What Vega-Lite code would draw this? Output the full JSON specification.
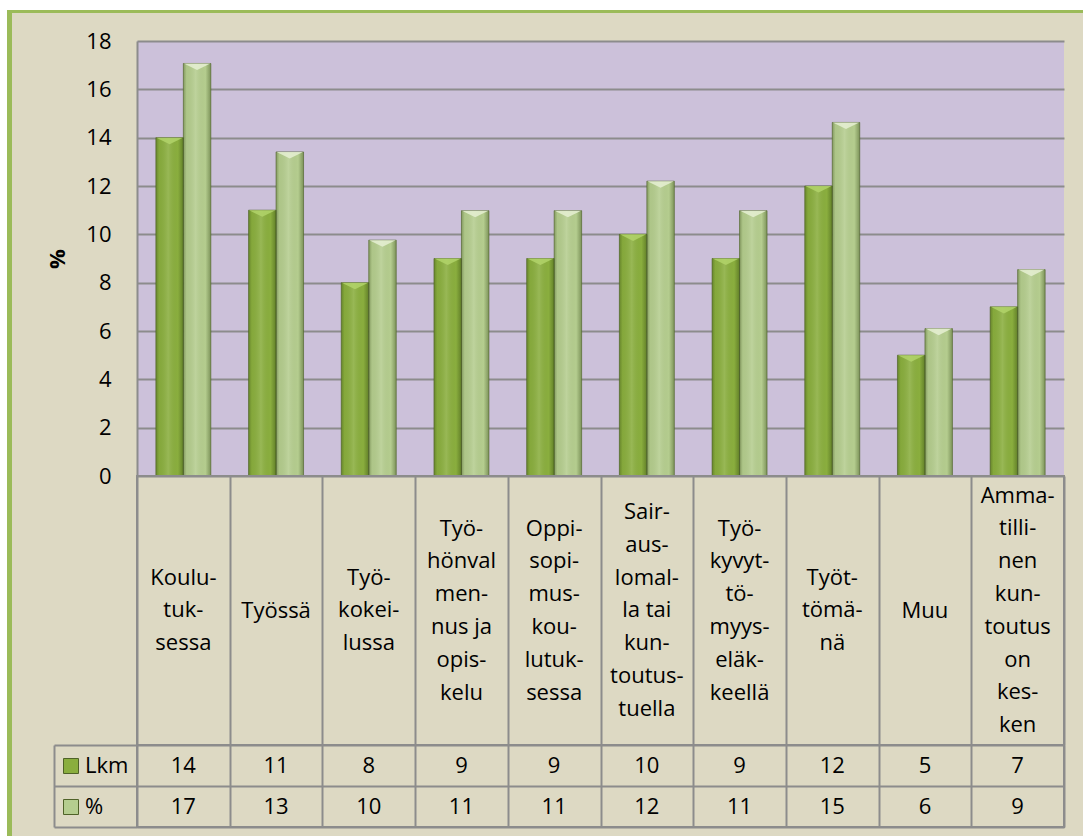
{
  "$schema": "https://vega.github.io/schema/vega-lite/v6.json",
  "padding": 0,
  "background": "#DDD9C3",
  "spacing": 0,
  "config": {"font": "Open Sans", "view": {"stroke": null}},
  "datasets": {
    "d": [
      {"cat": "Koulutuksessa", "label": "Koulu-\ntuk-\nsessa", "Lkm": 14, "Pct": 17.07},
      {"cat": "Työssä", "label": "Työssä", "Lkm": 11, "Pct": 13.41},
      {"cat": "Työkokeilussa", "label": "Työ-\nkokei-\nlussa", "Lkm": 8, "Pct": 9.76},
      {"cat": "Työhönvalmennus ja opiskelu", "label": "Työ-\nhönval\nmen-\nnus ja\nopis-\nkelu", "Lkm": 9, "Pct": 10.98},
      {"cat": "Oppisopimuskoulutuksessa", "label": "Oppi-\nsopi-\nmus-\nkou-\nlutuk-\nsessa", "Lkm": 9, "Pct": 10.98},
      {"cat": "Sairauslomalla tai kuntoutustuella", "label": "Sair-\naus-\nlomal-\nla tai\nkun-\ntoutus-\ntuella", "Lkm": 10, "Pct": 12.2},
      {"cat": "Työkyvyttömyyseläkkeellä", "label": "Työ-\nkyvyt-\ntö-\nmyys-\neläk-\nkeellä", "Lkm": 9, "Pct": 10.98},
      {"cat": "Työttömänä", "label": "Työt-\ntömä-\nnä", "Lkm": 12, "Pct": 14.63},
      {"cat": "Muu", "label": "Muu", "Lkm": 5, "Pct": 6.1},
      {"cat": "Ammatillinen kuntoutus on kesken", "label": "Amma-\ntilli-\nnen\nkun-\ntoutus\non\nkes-\nken", "Lkm": 7, "Pct": 8.54}
    ]
  },
  "hconcat": [
    {"data": {"values": []}, "mark": "point", "width": 7, "height": 836, "view": {"fill": "#FFFFFF", "stroke": null}},
    {
      "spacing": 0,
      "vconcat": [
        {"data": {"values": []}, "mark": "point", "width": 1076, "height": 10, "view": {"fill": "#FFFFFF", "stroke": null}},
        {"data": {"values": []}, "mark": "point", "width": 1076, "height": 3, "view": {"fill": "#9BBB59", "stroke": null}},
        {
          "spacing": 34,
          "hconcat": [
            {"data": {"values": []}, "mark": "point", "width": 5, "height": 823, "view": {"fill": "#9BBB59", "stroke": null}},
            {
              "spacing": 0,
              "bounds": "flush",
              "vconcat": [
                {"data": {"values": []}, "mark": "point", "width": 927, "height": 28, "view": {"fill": "#DDD9C3", "stroke": null}},
                {
                  "width": 927,
                  "height": 435,
                  "data": {"name": "d"},
                  "transform": [{"fold": ["Lkm", "Pct"], "as": ["series", "value"]}],
                  "view": {"fill": "#CCC1DA", "stroke": null},
                  "encoding": {
                    "x": {
                      "field": "cat", "type": "nominal",
                      "scale": {"type": "band", "domain": ["Koulutuksessa", "Työssä", "Työkokeilussa", "Työhönvalmennus ja opiskelu", "Oppisopimuskoulutuksessa", "Sairauslomalla tai kuntoutustuella", "Työkyvyttömyyseläkkeellä", "Työttömänä", "Muu", "Ammatillinen kuntoutus on kesken"], "paddingInner": 0.407, "paddingOuter": 0.2035},
                      "axis": null
                    },
                    "xOffset": {"field": "series", "type": "nominal", "scale": {"domain": ["Lkm", "Pct"], "paddingInner": 0, "paddingOuter": 0}},
                    "y": {
                      "field": "value", "type": "quantitative",
                      "scale": {"domain": [0, 18], "nice": false},
                      "axis": {
                        "values": [0, 2, 4, 6, 8, 10, 12, 14, 16, 18],
                        "title": "%", "titleFont": "Open Sans", "titleFontSize": 22, "titleFontWeight": "bold", "titleColor": "#000000", "titlePadding": 16,
                        "labelFont": "Open Sans", "labelFontSize": 22, "labelColor": "#000000", "labelPadding": 26,
                        "ticks": false, "tickSize": 0,
                        "domain": true, "domainColor": "#8C8C8C", "domainWidth": 2,
                        "grid": true, "gridColor": "#8C8C8C", "gridWidth": 2
                      }
                    }
                  },
                  "layer": [
                    {
                      "mark": {"type": "bar"},
                      "encoding": {
                        "color": {
                          "field": "series", "type": "nominal",
                          "scale": {"domain": ["Lkm", "Pct"], "range": ["#8AAE3E", "#B5CD8F"]},
                          "legend": {
                            "orient": "none", "legendX": 60, "legendY": 755, "title": null, "padding": 0,
                            "symbolType": "square", "symbolSize": 225, "symbolStrokeColor": "#4F6228", "symbolStrokeWidth": 1, "symbolOpacity": 1,
                            "labelFont": "Open Sans", "labelFontSize": 22, "labelColor": "#000000", "labelOffset": 3, "rowPadding": 19,
                            "labelExpr": "datum.label == 'Pct' ? '%' : datum.label"
                          }
                        }
                      }
                    },
                    {
                      "mark": {
                        "type": "bar",
                        "fill": {"gradient": "linear", "x1": 0, "y1": 0, "x2": 1, "y2": 0, "stops": [
                          {"offset": 0, "color": "rgba(40,60,10,0.35)"},
                          {"offset": 0.12, "color": "rgba(40,60,10,0.05)"},
                          {"offset": 0.45, "color": "rgba(255,255,255,0.12)"},
                          {"offset": 0.8, "color": "rgba(40,60,10,0)"},
                          {"offset": 1, "color": "rgba(40,60,10,0.4)"}
                        ]},
                        "stroke": "#4A5E25", "strokeWidth": 1, "strokeOpacity": 0.6
                      }
                    },
                    {
                      "mark": {
                        "type": "point",
                        "shape": "M-1,0L1,0L0,0.5Z",
                        "size": 700,
                        "filled": true,
                        "opacity": 0.85,
                        "strokeWidth": 0,
                        "fill": {"expr": "datum.series == 'Lkm' ? '#B2D46A' : '#E6F0D4'"}
                      }
                    }
                  ]
                },
                {
                  "width": 927,
                  "height": 269,
                  "data": {"name": "d"},
                  "view": {"stroke": "#8C8C8C", "strokeWidth": 2},
                  "mark": {"type": "text", "lineBreak": "\n", "lineHeight": 32.8, "fontSize": 22, "font": "Open Sans", "color": "#000000", "baseline": "middle", "align": "center",
                    "dy": {"expr": "-(length(split(datum.label, '\\n')) - 1) * 16.4"}},
                  "encoding": {
                    "x": {
                      "field": "cat", "type": "nominal",
                      "scale": {"type": "band", "domain": ["Koulutuksessa", "Työssä", "Työkokeilussa", "Työhönvalmennus ja opiskelu", "Oppisopimuskoulutuksessa", "Sairauslomalla tai kuntoutustuella", "Työkyvyttömyyseläkkeellä", "Työttömänä", "Muu", "Ammatillinen kuntoutus on kesken"], "paddingInner": 0, "paddingOuter": 0},
                      "axis": {"title": null, "labels": false, "ticks": false, "domain": false, "grid": true, "tickBand": "extent", "gridColor": "#8C8C8C", "gridWidth": 2}
                    },
                    "text": {"field": "label", "type": "nominal"}
                  }
                },
                {
                  "width": 927,
                  "height": 82,
                  "data": {"name": "d"},
                  "transform": [{"fold": ["Lkm", "Pct"], "as": ["series", "value"]}],
                  "view": {"stroke": "#8C8C8C", "strokeWidth": 2},
                  "mark": {"type": "text", "fontSize": 22, "font": "Open Sans", "color": "#000000", "baseline": "middle", "align": "center"},
                  "encoding": {
                    "x": {
                      "field": "cat", "type": "nominal",
                      "scale": {"type": "band", "domain": ["Koulutuksessa", "Työssä", "Työkokeilussa", "Työhönvalmennus ja opiskelu", "Oppisopimuskoulutuksessa", "Sairauslomalla tai kuntoutustuella", "Työkyvyttömyyseläkkeellä", "Työttömänä", "Muu", "Ammatillinen kuntoutus on kesken"], "paddingInner": 0, "paddingOuter": 0},
                      "axis": {"title": null, "labels": false, "ticks": false, "domain": false, "grid": true, "tickBand": "extent", "gridColor": "#8C8C8C", "gridWidth": 2}
                    },
                    "y": {
                      "field": "series", "type": "nominal",
                      "scale": {"type": "band", "domain": ["Lkm", "Pct"], "paddingInner": 0, "paddingOuter": 0},
                      "axis": {"title": null, "labels": false, "offset": 83, "tickBand": "extent", "ticks": true, "tickSize": -83, "tickColor": "#8C8C8C", "tickWidth": 2, "domain": true, "domainColor": "#8C8C8C", "domainWidth": 2, "grid": true, "gridColor": "#8C8C8C", "gridWidth": 2}
                    },
                    "text": {"field": "value", "type": "quantitative", "format": ".0f"}
                  }
                }
              ]
            }
          ]
        }
      ]
    }
  ]
}
